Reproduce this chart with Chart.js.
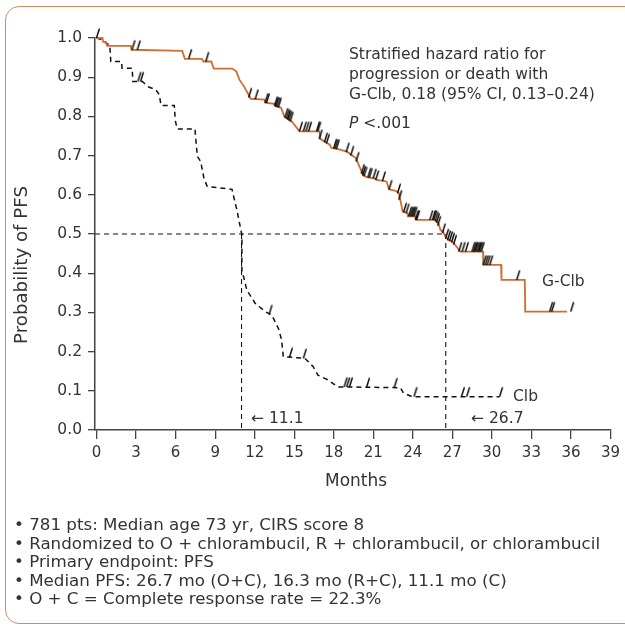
<!DOCTYPE html>
<html>
<head>
<meta charset="utf-8">
<script src="https://cdn.jsdelivr.net/npm/chart.js@4.4.1/dist/chart.umd.min.js"></script>
<style>
  html, body { margin: 0; padding: 0; background: #fff; overflow: hidden; }
  #wrap { position: relative; width: 625px; height: 628px; overflow: hidden; }
  #frame { position: absolute; left: 5px; top: 6px; width: 660px; height: 618px; border: 1.5px solid #d98b5f; border-radius: 14px; box-sizing: border-box; }
  #chart { position: absolute; left: 0; top: 0; }
  #notes { position: absolute; left: 14px; top: 516px; font-family: "DejaVu Sans", sans-serif; font-size: 14px; color: #333; line-height: 18.6px; white-space: nowrap; }
</style>
</head>
<body>
<div id="wrap">
  <div id="frame"></div>
  <canvas id="chart" width="625" height="628"></canvas>
  <div id="notes">
    <div>• 781 pts: Median age 73 yr, CIRS score 8</div>
    <div>• Randomized to O + chlorambucil, R + chlorambucil, or chlorambucil</div>
    <div>• Primary endpoint: PFS</div>
    <div>• Median PFS: 26.7 mo (O+C), 16.3 mo (R+C), 11.1 mo (C)</div>
    <div>• O + C = Complete response rate = 22.3%</div>
  </div>
</div>
<script>
// axis ticks
const xTicks = [0, 3, 6, 9, 12, 15, 18, 21, 24, 27, 30, 33, 36, 39];
const yTicks = [0, 0.1, 0.2, 0.3, 0.4, 0.5, 0.6, 0.7, 0.8, 0.9, 1.0];

// G-Clb curve (months / probability of PFS)
const gclbMonths = [0, 0.45, 0.5, 0.7, 0.8, 2.6, 2.65, 6.5, 6.7, 8.0, 8.1, 8.7, 8.9, 10.3, 10.6, 10.85, 11.2, 11.7,
  12.75, 12.8, 13.5, 13.6, 14.0, 14.25, 14.85, 15.4, 16.9, 17.0, 17.7, 17.8, 18.4, 19.0, 19.7, 19.95, 20.25, 20.5,
  21.1, 21.25, 22.0, 22.2, 22.7, 22.95, 23.23, 23.6, 23.62, 24.2, 24.25, 25.7, 25.95, 26.1, 26.3, 26.48, 26.7,
  26.98, 27.23, 27.6, 29.33, 29.35, 30.7, 30.73, 32.5, 32.53, 35.7];
const gclbSurv = [1.0, 1.0, 0.99, 0.99, 0.98, 0.98, 0.97, 0.967, 0.947, 0.947, 0.94, 0.94, 0.922, 0.922, 0.915, 0.893, 0.876, 0.845,
  0.843, 0.835, 0.832, 0.826, 0.822, 0.80, 0.786, 0.762, 0.762, 0.742, 0.728, 0.72, 0.716, 0.71, 0.693, 0.672, 0.65, 0.645,
  0.642, 0.638, 0.634, 0.614, 0.61, 0.604, 0.557, 0.553, 0.545, 0.545, 0.536, 0.536, 0.527, 0.51, 0.506, 0.493, 0.485,
  0.481, 0.472, 0.455, 0.455, 0.421, 0.421, 0.383, 0.383, 0.302, 0.302];

// Clb curve
const clbMonths = [0, 0.47, 0.75, 1.0, 1.08, 1.9, 1.93, 2.7, 2.75, 3.48, 3.88, 4.5, 4.76, 4.89, 5.9, 5.97, 6.12, 7.47, 7.52,
  7.65, 7.9, 8.15, 8.4, 10.28, 10.4, 10.65, 10.9, 11.03, 11.03, 11.16, 11.4, 12.04, 12.8, 13.3, 13.8, 14.04, 14.17, 15.8,
  16.43, 16.8, 17.55, 18.3, 23.05, 23.3, 23.95, 30.57];
const clbSurv = [1.0, 0.995, 0.986, 0.982, 0.94, 0.94, 0.923, 0.923, 0.889, 0.889, 0.876, 0.868, 0.855, 0.828, 0.828, 0.79, 0.768, 0.768, 0.745,
  0.698, 0.685, 0.642, 0.621, 0.614, 0.596, 0.561, 0.519, 0.497, 0.40, 0.391, 0.357, 0.323, 0.302, 0.293, 0.259, 0.23, 0.187, 0.183,
  0.162, 0.14, 0.128, 0.11, 0.108, 0.094, 0.085, 0.085];

// censoring times
const gclbCensor = [0.1, 2.8, 3.2, 7.1, 8.4, 11.65, 12.15, 12.9, 13.0, 13.6, 13.7, 13.8, 13.9, 14.4, 14.5, 14.6, 14.7, 14.8,
  15.5, 15.8, 16.0, 16.2, 16.8, 16.9, 17.0, 17.4, 17.55, 18.1, 18.2, 18.3, 19.05, 19.4, 19.8, 20.2, 20.3, 20.4, 20.7, 20.8,
  21.1, 21.3, 21.8, 22.3, 22.95, 23.05, 23.4, 23.6, 23.8, 23.9, 24.0, 24.1, 24.2, 24.3, 24.4, 25.4, 25.6, 25.7, 25.8, 25.9,
  26.0, 26.35, 26.6, 26.75, 26.9, 27.05, 27.2, 27.6, 27.85, 28.1, 28.6, 28.7, 28.8, 28.9, 29.0, 29.1, 29.2, 29.3, 29.45,
  29.6, 29.75, 29.95, 32.0, 34.5, 34.65, 36.1];
const clbCensor = [3.25, 3.45, 13.2, 14.75, 15.8, 18.9, 19.1, 19.3, 20.6, 22.7, 24.2, 27.8, 28.2, 30.7];

// medians (position as drawn)
const medianClb = 11.0;
const medianGclb = 26.5;

const ORANGE = '#cf6d33';
const TEXT = '#333';
const FONT = '"DejaVu Sans", sans-serif';
const X_MIN = -0.12;

// font size that makes a text as wide as in the reference
const measureCtx = document.createElement('canvas').getContext('2d');
function fitSize(text, width, style) {
  measureCtx.font = (style || '') + ' 100px ' + FONT;
  return 100 * width / measureCtx.measureText(text).width;
}
const annoSize = fitSize('G-Clb, 0.18 (95% CI, 0.13–0.24)', 246);
const yTitleSize = fitSize('Probability of PFS', 158);
const monthsSize = fitSize('Months', 62);
const noteSize = fitSize('• Randomized to O + chlorambucil, R + chlorambucil, or chlorambucil', 586);
document.getElementById('notes').style.fontSize = noteSize.toFixed(2) + 'px';

function toPoints(xs, ys) { return xs.map((x, i) => ({ x: x, y: ys[i] })); }

// survival value on the drawn curve at time t
function survAt(xs, ys, t) {
  if (t >= xs[xs.length - 1]) return ys[ys.length - 1];
  for (let i = 1; i < xs.length; i++) {
    if (xs[i] >= t) {
      const x0 = xs[i - 1], x1 = xs[i];
      if (x1 === x0) return ys[i];
      return ys[i - 1] + (ys[i] - ys[i - 1]) * (t - x0) / (x1 - x0);
    }
  }
  return ys[0];
}

function censorPoints(times, xs, ys) { return times.map(t => ({ x: t, y: survAt(xs, ys, t) })); }

// tick mark sitting on top of the curve
function censorMark() {
  const c = document.createElement('canvas');
  c.width = 10; c.height = 22;
  const g = c.getContext('2d');
  g.strokeStyle = '#000'; g.lineWidth = 1.4; g.lineCap = 'butt';
  g.beginPath(); g.moveTo(3.5, 11); g.lineTo(6.5, 1.5); g.stroke();
  return c;
}
const mark = censorMark();

const textPlugin = {
  id: 'texts',
  afterDraw(chart) {
    const ctx = chart.ctx;
    const f = s => s.toFixed(2) + 'px ' + FONT;
    ctx.save();
    ctx.fillStyle = TEXT;
    ctx.textBaseline = 'middle';
    ctx.textAlign = 'left';
    ctx.font = f(annoSize);
    ctx.fillText('Stratified hazard ratio for', 349, 55);
    ctx.fillText('progression or death with', 349, 75);
    ctx.fillText('G-Clb, 0.18 (95% CI, 0.13–0.24)', 349, 95);
    ctx.font = 'italic ' + f(annoSize);
    ctx.fillText('P', 349, 124);
    const pw = ctx.measureText('P ').width;
    ctx.font = f(annoSize);
    ctx.fillText('<.001', 349 + pw, 124);
    ctx.fillText('G-Clb', 542, 282);
    ctx.fillText('Clb', 513, 397);
    ctx.fillText('← 11.1', 251, 419);
    ctx.fillText('← 26.7', 471, 419);
    ctx.textAlign = 'center';
    ctx.font = f(monthsSize);
    ctx.fillText('Months', 356, 482);
    ctx.translate(22, 265);
    ctx.rotate(-Math.PI / 2);
    ctx.font = f(yTitleSize);
    ctx.fillText('Probability of PFS', 0, 0);
    ctx.restore();
  }
};

new Chart(document.getElementById('chart').getContext('2d'), {
  type: 'line',
  data: {
    datasets: [
      { label: 'G-Clb censored', type: 'scatter', data: censorPoints(gclbCensor, gclbMonths, gclbSurv),
        pointStyle: mark, pointRadius: 5, order: 0, clip: false },
      { label: 'Clb censored', type: 'scatter', data: censorPoints(clbCensor, clbMonths, clbSurv),
        pointStyle: mark, pointRadius: 5, order: 0, clip: false },
      { label: 'G-Clb', data: toPoints(gclbMonths, gclbSurv), borderColor: ORANGE, borderWidth: 1.8,
        pointRadius: 0, tension: 0, order: 1, clip: false },
      { label: 'Clb', data: toPoints(clbMonths, clbSurv), borderColor: '#111', borderWidth: 1.5, borderDash: [5, 4],
        pointRadius: 0, tension: 0, order: 1, clip: false },
      { label: 'median', data: [{ x: X_MIN, y: 0.5 }, { x: medianGclb, y: 0.5 }], borderColor: '#111', borderWidth: 1.1,
        borderDash: [5, 4], pointRadius: 0, order: 2 },
      { label: 'median Clb', data: [{ x: medianClb, y: 0.5 }, { x: medianClb, y: 0 }], borderColor: '#111', borderWidth: 1.1,
        borderDash: [5, 4], pointRadius: 0, order: 2 },
      { label: 'median G-Clb', data: [{ x: medianGclb, y: 0.5 }, { x: medianGclb, y: 0 }], borderColor: '#111', borderWidth: 1.1,
        borderDash: [5, 4], pointRadius: 0, order: 2 }
    ]
  },
  options: {
    responsive: false,
    animation: false,
    events: [],
    layout: { padding: { top: 38, right: 10, left: 0, bottom: 0 } },
    plugins: { legend: { display: false }, tooltip: { enabled: false } },
    scales: {
      x: {
        type: 'linear', min: X_MIN, max: 39,
        afterBuildTicks: s => { s.ticks = xTicks.map(v => ({ value: v })); },
        afterFit: s => { s.height = 198; },
        border: { display: true, color: '#444', width: 1.5 },
        grid: { drawOnChartArea: false, drawTicks: true, tickLength: 9, color: '#444', lineWidth: 1.3 },
        ticks: { font: { family: FONT, size: 15 }, color: TEXT, padding: 5, maxRotation: 0, autoSkip: false }
      },
      y: {
        min: 0, max: 1,
        afterBuildTicks: s => { s.ticks = yTicks.map(v => ({ value: v })); },
        afterFit: s => { s.width = 95; },
        border: { display: true, color: '#444', width: 1.5 },
        grid: { drawOnChartArea: false, drawTicks: true, tickLength: 7, color: '#444', lineWidth: 1.3 },
        ticks: { font: { family: FONT, size: 15.5 }, color: TEXT, padding: 6, callback: v => v.toFixed(1) }
      }
    }
  },
  plugins: [textPlugin]
});
</script>
</body>
</html>
